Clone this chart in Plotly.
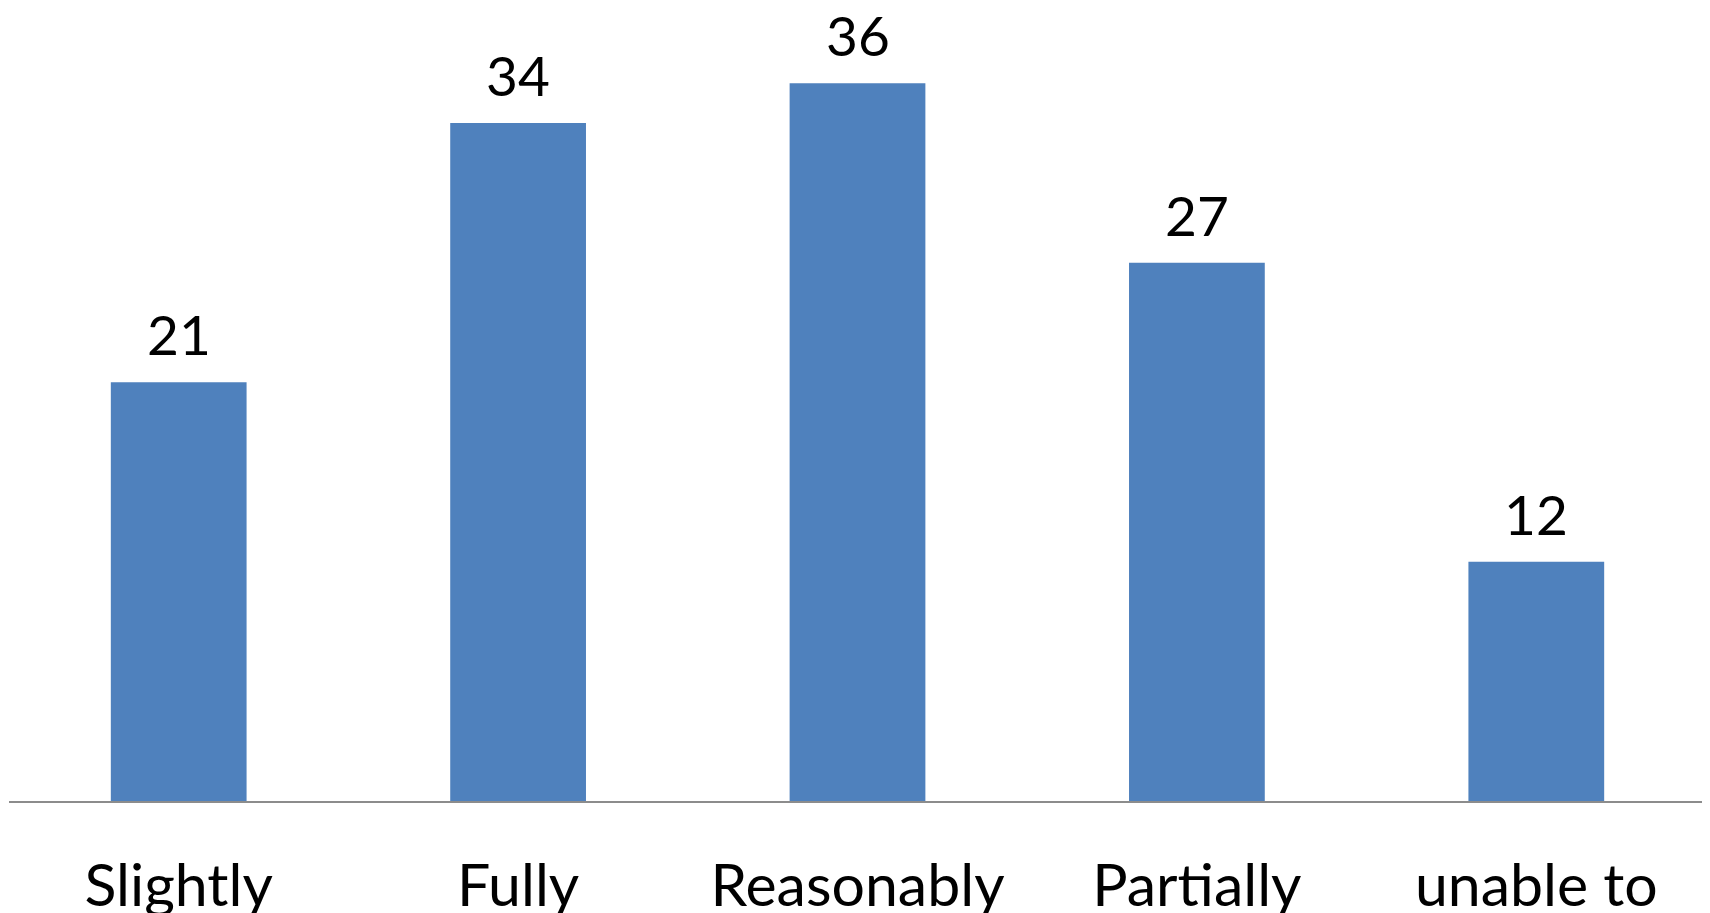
import plotly.graph_objects as go

categories = ["Slightly", "Fully", "Reasonably", "Partially", "unable to"]
values = [21, 34, 36, 27, 12]

BAR_COLOR = "#4F81BD"
FONT = "Lato"

fig = go.Figure()
fig.add_trace(go.Bar(
    x=categories,
    y=values,
    marker=dict(color=BAR_COLOR, line=dict(width=0)),
    hoverinfo="x+y",
))

for c, v in zip(categories, values):
    fig.add_annotation(
        x=c, y=v, text=str(v), showarrow=False,
        yanchor="bottom", yshift=13,
        font=dict(family=FONT, size=55, color="#000000"),
    )

fig.update_layout(
    width=1702, height=905,
    margin=dict(l=1, r=4, t=0, b=112, autoexpand=False),
    paper_bgcolor="#ffffff", plot_bgcolor="rgba(0,0,0,0)",
    bargap=0.6,
    showlegend=False,
    font=dict(family=FONT, color="#000000"),
)
fig.update_xaxes(
    showline=True, linecolor="#8c8c8c", linewidth=2,
    ticks="", showgrid=False, zeroline=False, automargin=False,
    tickfont=dict(family=FONT, size=59, color="#000000"),
    ticklabelstandoff=32,
)
fig.update_yaxes(visible=False, range=[0, 39.77], showgrid=False,
                 zeroline=False, automargin=False)

fig.write_html("out.html")
